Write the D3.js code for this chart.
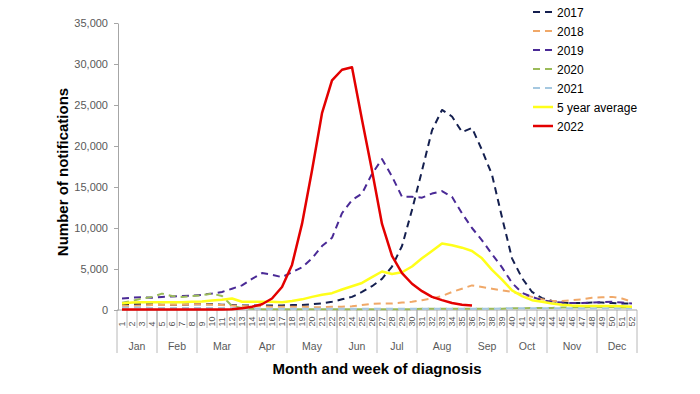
<!doctype html>
<meta charset="utf-8">
<title>Notifications by week</title>
<script src="https://cdn.jsdelivr.net/npm/d3@7/dist/d3.min.js"></script>
<style>
  body { margin: 0; background: #fff; }
  svg { display: block; font-family: "Liberation Sans", Arial, sans-serif; }
</style>
<svg id="chart" width="700" height="394"></svg>
<script>
  // week numbers and month groups
  const weeks = d3.range(1, 53)
  const months = ['Jan', 'Feb', 'Mar', 'Apr', 'May', 'Jun', 'Jul', 'Aug', 'Sep', 'Oct', 'Nov', 'Dec']
  const monthWeeks = [4, 4, 5, 4, 5, 4, 4, 5, 4, 4, 5, 4]
  const yTicks = [0, 5000, 10000, 15000, 20000, 25000, 30000, 35000]

  // weekly notifications
  const s2017 = [700, 700, 700, 700, 650, 650, 650, 700, 700, 700, 650, 600, 550, 550, 550, 550, 550, 600, 600, 700,
    800, 1000, 1300, 1600, 2200, 2900, 3800, 5300, 7800, 12200, 17000, 21900, 24400, 23600, 21700, 22200, 19500, 16500, 11300, 6300,
    3900, 2200, 1450, 1100, 900, 850, 850, 900, 900, 850, 800, 800]
  const s2018 = [500, 500, 550, 600, 600, 650, 650, 700, 700, 650, 600, 550, 500, 450, 450, 400, 400, 400, 400, 350,
    350, 400, 400, 450, 600, 750, 800, 800, 900, 1000, 1200, 1400, 1700, 2200, 2600, 3000, 2800, 2600, 2400, 2200,
    1900, 1600, 1300, 1100, 1100, 1200, 1300, 1500, 1550, 1600, 1400, 1000]
  const s2019 = [1400, 1500, 1550, 1500, 1600, 1650, 1700, 1750, 1850, 2000, 2200, 2600, 3000, 3800, 4500, 4300, 4000, 4600, 5200, 6300,
    7800, 8800, 11800, 13400, 14200, 16600, 18400, 16300, 13800, 13800, 13700, 14200, 14500, 13800, 11800, 10000, 8500, 6800, 5200, 3300,
    2100, 1600, 1200, 1000, 900, 850, 850, 900, 950, 1000, 900, 800]
  const s2020 = [900, 1100, 1400, 1600, 2000, 1700, 1600, 1700, 1800, 2000, 1700, 500, 250, 150, 100, 100, 100, 100, 100, 100,
    100, 100, 100, 100, 100, 100, 100, 100, 100, 100, 150, 150, 150, 150, 150, 150, 150, 150, 150, 200,
    200, 250, 250, 250, 300, 300, 300, 350, 350, 350, 300, 300]
  const s2021 = [300, 300, 300, 250, 250, 250, 250, 250, 250, 250, 250, 200, 200, 200, 150, 150, 150, 150, 150, 150,
    150, 150, 150, 150, 150, 150, 150, 150, 150, 150, 150, 150, 150, 150, 150, 150, 150, 150, 200, 200,
    200, 200, 200, 200, 200, 200, 200, 200, 200, 200, 200, 200]
  const avg5 = [800, 900, 950, 950, 950, 950, 950, 1000, 1050, 1150, 1250, 1400, 1000, 1000, 1000, 1000, 950, 1100, 1300, 1600,
    1850, 2050, 2500, 2900, 3300, 4000, 4700, 4400, 4600, 5300, 6300, 7200, 8100, 7900, 7600, 7200, 6300, 4900, 3700, 2400,
    1700, 1200, 1000, 800, 650, 550, 500, 500, 500, 500, 450, 400]
  const s2022 = [50, 50, 50, 50, 50, 50, 50, 50, 50, 50, 50, 100, 200, 400, 700, 1400, 2800, 5500, 10500, 17000,
    24000, 28000, 29300, 29600, 23200, 17000, 10500, 6600, 4500, 3200, 2300, 1600, 1200, 850, 650, 550]

  const series = [
    { name: '2017', values: s2017, color: '#141f4f', dash: '7,5', width: 2 },
    { name: '2018', values: s2018, color: '#f0a868', dash: '7,5', width: 2 },
    { name: '2019', values: s2019, color: '#4a2a96', dash: '7,5', width: 2 },
    { name: '2020', values: s2020, color: '#9bbb59', dash: '7,5', width: 2 },
    { name: '2021', values: s2021, color: '#a5c8e0', dash: '7,5', width: 2 },
    { name: '5 year average', values: avg5, color: '#ffff1a', dash: null, width: 2.5 },
    { name: '2022', values: s2022, color: '#e30000', dash: null, width: 2.5 },
  ]

  const svg = d3.select('#chart')
  const x = d3.scaleBand().domain(weeks).range([117, 637])
  const y = d3.scaleLinear().domain([0, 35000]).range([310, 23])
  const axisGrey = '#a6a6a6'
  const labelGrey = '#595959'

  // y axis
  const yAxis = svg.append('g')
    .attr('transform', 'translate(118,0)')
    .call(d3.axisLeft(y).tickValues(yTicks).tickFormat(d3.format(',')).tickSize(4).tickSizeOuter(0).tickPadding(6))
  yAxis.selectAll('path, line').attr('stroke', axisGrey)
  yAxis.selectAll('text').attr('fill', labelGrey).style('font-size', '11px')
    .style('font-family', '"Liberation Sans", Arial, sans-serif')

  // x axis: week row and month row
  const xAxis = svg.append('g')
  xAxis.append('line')
    .attr('x1', x.range()[0]).attr('x2', x.range()[1])
    .attr('y1', y(0)).attr('y2', y(0))
    .attr('stroke', axisGrey)

  xAxis.selectAll('line.wtick').data(weeks.slice(1))
    .join('line')
    .attr('class', 'wtick')
    .attr('x1', d => x(d)).attr('x2', d => x(d))
    .attr('y1', y(0)).attr('y2', 328)
    .attr('stroke', axisGrey).attr('stroke-width', 0.8)

  xAxis.selectAll('text.wlabel').data(weeks)
    .join('text')
    .attr('class', 'wlabel')
    .attr('transform', d => `translate(${x(d) + x.bandwidth() / 2 + 3.2},326.5) rotate(-90)`)
    .attr('text-anchor', 'start')
    .attr('fill', labelGrey)
    .style('font-size', '9px')
    .text(d => d)

  // month boundaries from cumulative week counts
  const bounds = [0, ...Array.from(d3.cumsum(monthWeeks))]
  const edgeX = i => (i < weeks.length ? x(weeks[i]) : x.range()[1])
  xAxis.selectAll('line.mtick').data(bounds)
    .join('line')
    .attr('class', 'mtick')
    .attr('x1', edgeX).attr('x2', edgeX)
    .attr('y1', y(0)).attr('y2', 353)
    .attr('stroke', axisGrey).attr('stroke-width', 0.8)

  xAxis.selectAll('text.mlabel').data(months)
    .join('text')
    .attr('class', 'mlabel')
    .attr('x', (d, i) => (edgeX(bounds[i]) + edgeX(bounds[i + 1])) / 2)
    .attr('y', 350)
    .attr('text-anchor', 'middle')
    .attr('fill', labelGrey)
    .style('font-size', '10.5px')
    .text(d => d)

  // axis titles
  svg.append('text')
    .attr('x', 377).attr('y', 374)
    .attr('text-anchor', 'middle')
    .style('font-size', '15px').style('font-weight', 'bold')
    .text('Month and week of diagnosis')

  svg.append('text')
    .attr('transform', 'translate(68,172) rotate(-90)')
    .attr('text-anchor', 'middle')
    .style('font-size', '15px').style('font-weight', 'bold')
    .text('Number of notifications')

  // lines
  const line = d3.line()
    .x((d, i) => x(weeks[i]) + x.bandwidth() / 2)
    .y(d => y(d))

  svg.append('g').selectAll('path').data(series)
    .join('path')
    .attr('fill', 'none')
    .attr('stroke', d => d.color)
    .attr('stroke-width', d => d.width)
    .attr('stroke-dasharray', d => d.dash)
    .attr('stroke-linejoin', 'round')
    .attr('d', d => line(d.values))

  // legend
  const legend = svg.append('g').attr('transform', 'translate(533,12)')
  const row = legend.selectAll('g').data(series)
    .join('g')
    .attr('transform', (d, i) => `translate(0,${i * 19})`)
  row.append('line')
    .attr('x1', 0).attr('x2', 20)
    .attr('stroke', d => d.color)
    .attr('stroke-width', d => d.width)
    .attr('stroke-dasharray', d => d.dash)
  row.append('text')
    .attr('x', 24).attr('y', 4.5)
    .style('font-size', '12px')
    .attr('fill', '#000')
    .text(d => d.name)
</script>
